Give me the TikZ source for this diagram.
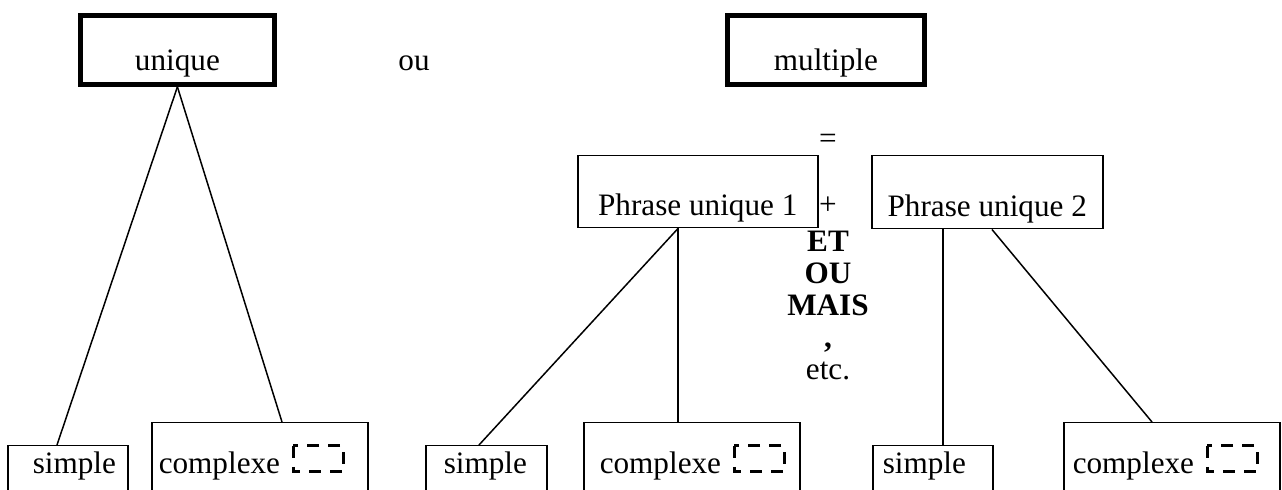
\documentclass[tikz,border=0pt]{standalone}
\usepackage{fontspec}
\setmainfont{Liberation Serif}
\usetikzlibrary{calc}

\tikzset{
  box/.style={draw, rectangle, anchor=north west, inner sep=0pt, line width=0.75pt},
  topbox/.style={box, line width=2.4pt, anchor=north west},
  leftbox/.style={box, align=left},
  icon/.style={line width=1.5pt, dash pattern=on 6pt off 4.5pt},
  link/.style={line width=0.75pt}
}

\begin{document}
\begin{tikzpicture}[x=0.5pt, y=-0.5pt, font=\fontsize{15.6}{16}\selectfont]
  \useasboundingbox (0,0) rectangle (1282,490);
  \clip (0,0) rectangle (1282,490);

  % top row
  \node[topbox, minimum width=97pt, text height=27.5pt, text depth=7pt] (uniq) at (78,13) {unique};
  \node[anchor=base, inner sep=0pt] (ou) at (414,71) {ou};
  \node[topbox, minimum width=98.5pt, text height=27.5pt, text depth=7pt] (mult) at (725,13) {multiple};
  \node[inner sep=0pt] (eq) at (828,141) {=};

  % the two sentences and what joins them
  \node[box, minimum width=120pt, text height=30pt, text depth=6pt] (ph1) at (577,155) {Phrase unique 1};
  \node[anchor=base, inner sep=0pt] (plus) at (828,215) {+};
  \node[box, minimum width=115.5pt, text height=30.5pt, text depth=6pt] (ph2) at (871,155) {Phrase unique 2};
  \node[anchor=north, inner sep=0pt, align=center] (conj) at (828,231)
    {\textbf{ET}\\\textbf{OU}\\\textbf{MAIS}\\\textbf{,}\\etc.};

  % bottom row
  \node[leftbox, text width=60pt, text height=14pt, text depth=13.5pt] (s1) at (7,445) {\hspace*{12.5pt}simple};
  \node[leftbox, text width=108pt, text height=25.5pt, text depth=13.5pt] (c1) at (151,422) {\hspace*{3.5pt}complexe};
  \node[leftbox, text width=60.5pt, text height=14pt, text depth=13.5pt] (s2) at (425,445) {\hspace*{9pt}simple};
  \node[leftbox, text width=108pt, text height=25.5pt, text depth=13.5pt] (c2) at (583,422) {\hspace*{8pt}complexe};
  \node[leftbox, text width=60pt, text height=14pt, text depth=13.5pt] (s3) at (872,445) {\hspace*{5pt}simple};
  \node[leftbox, text width=108pt, text height=25.5pt, text depth=13.5pt] (c3) at (1063,422) {\hspace*{4.5pt}complexe};

  % dashed marks after "complexe"
  \draw[icon] ($(c1.north west)+(142,24)$) rectangle +(50,26);
  \draw[icon] ($(c2.north west)+(151,24)$) rectangle +(50,26);
  \draw[icon] ($(c3.north west)+(144,24)$) rectangle +(50,26);

  % branches
  \draw[link] (uniq.south) -- ($(s1.north west)+(50,0)$);
  \draw[link] (uniq.south) -- ($(c1.north west)+(131,0)$);
  \coordinate (ph1foot) at ($(ph1.south west)+(101,0)$);
  \draw[link] (ph1foot) -- ($(s2.north west)+(54,0)$);
  \draw[link] (ph1foot) -- (ph1foot |- c2.north);
  \coordinate (ph2foot) at ($(ph2.south west)+(72,0)$);
  \draw[link] (ph2foot) -- (ph2foot |- s3.north);
  \draw[link] ($(ph2.south west)+(121,0)$) -- ($(c3.north west)+(89,0)$);
\end{tikzpicture}
\end{document}
